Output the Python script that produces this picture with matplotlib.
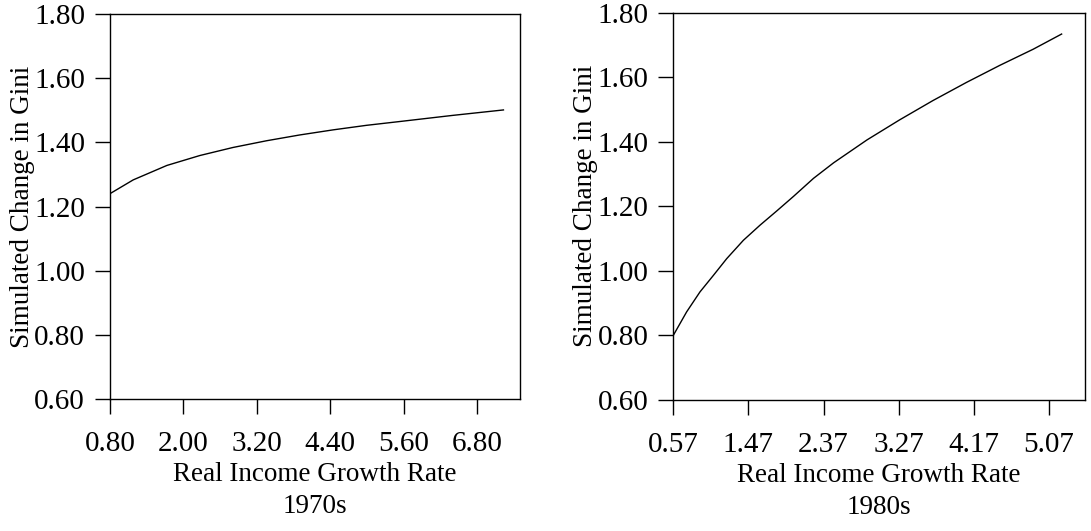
import matplotlib
matplotlib.use('Agg')
import matplotlib.pyplot as plt

# values
growth_70s = [0.80, 1.18, 1.73, 2.27, 2.81, 3.36, 3.90, 4.45, 4.99, 5.54, 6.40, 7.23]
gini_70s = [1.240, 1.283, 1.328, 1.359, 1.384, 1.405, 1.423, 1.439, 1.453, 1.465, 1.484, 1.501]
ticks_70s = [0.80, 2.00, 3.20, 4.40, 5.60, 6.80]

growth_80s = [0.57, 0.73, 0.89, 1.05, 1.21, 1.41, 1.61, 1.81, 2.01, 2.25, 2.49,
              2.89, 3.28, 3.68, 4.08, 4.48, 4.88, 5.22]
gini_80s = [0.800, 0.873, 0.935, 0.986, 1.038, 1.095, 1.142, 1.186, 1.231, 1.287, 1.335,
            1.406, 1.468, 1.528, 1.584, 1.637, 1.687, 1.734]
ticks_80s = [0.57, 1.47, 2.37, 3.27, 4.17, 5.07]

gini_ticks = [0.60, 0.80, 1.00, 1.20, 1.40, 1.60, 1.80]

plt.rcParams['font.family'] = ['Liberation Serif', 'DejaVu Serif']

fig = plt.figure(figsize=(10.91, 5.31), dpi=100)
ax1 = fig.add_axes([0.1008, 0.2486, 0.4766 - 0.1008, 0.9736 - 0.2486])
ax2 = fig.add_axes([0.6171, 0.2467, 0.9945 - 0.6171, 0.976 - 0.2467])


def draw_panel(ax, x, y, xticks, xmax, decade):
    ax.plot(x, y, color='black', linewidth=1.0)
    ax.set_xlim(xticks[0], xmax)
    ax.set_ylim(0.6, 1.8)
    ax.set_xticks(xticks)
    ax.set_xticklabels(['%.2f' % t for t in xticks])
    ax.set_yticks(gini_ticks)
    ax.set_yticklabels(['%.2f' % t for t in gini_ticks])
    ax.tick_params(direction='out', length=11, width=1.0, colors='black', labelsize=21)
    ax.tick_params(axis='x', pad=12)
    ax.tick_params(axis='y', pad=7)
    for s in ax.spines.values():
        s.set_linewidth(1.0)
    ax.set_xlabel('Real Income Growth Rate\n' + decade, fontsize=19.5,
                  linespacing=1.4, labelpad=3.5)
    ax.set_ylabel('Simulated Change in Gini', fontsize=19.5, labelpad=-0.5)


draw_panel(ax1, growth_70s, gini_70s, ticks_70s, 7.50, '1970s')
draw_panel(ax2, growth_80s, gini_80s, ticks_80s, 5.50, '1980s')

fig.savefig('out.png', dpi=100)
